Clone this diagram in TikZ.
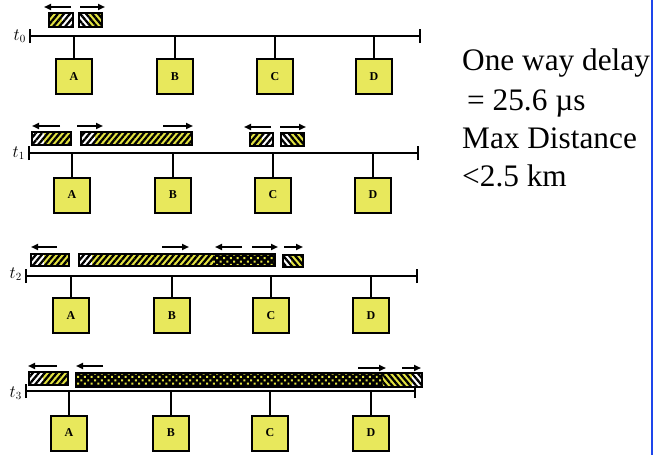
\documentclass[tikz,border=0pt]{standalone}
\usepackage{fontspec}
\setmainfont{Liberation Serif}
\usetikzlibrary{arrows.meta,patterns.meta}

\definecolor{stationfill}{RGB}{232,232,92}
\definecolor{stripe}{RGB}{226,226,64}
\definecolor{rulerblue}{RGB}{30,70,235}

\tikzset{
  wire/.style={line width=2pt, black},
  station/.style={draw, line width=2pt, fill=stationfill, minimum width=36pt,
    minimum height=35pt, inner sep=0pt, font=\bfseries\fontsize{12}{12}\selectfont},
  dir/.style={line width=1.7pt, -{Triangle[length=7pt,width=6pt]}},
  hatchfwd/.style={pattern={Lines[angle=50,distance=4.6pt,line width=2.3pt]}, pattern color=black},
  hatchback/.style={pattern={Lines[angle=-50,distance=4.6pt,line width=2.3pt]}, pattern color=black},
  dotfill/.style={pattern={Dots[radius=1.4pt,distance=4.8pt,angle=45]}, pattern color=stripe},
  frame/.style={draw, line width=1.4pt},
  tlabel/.style={font=\fontsize{16}{16}\selectfont, anchor=east, inner sep=1pt},
  note/.style={anchor=base west, inner sep=0pt, font=\fontsize{31.3}{38}\selectfont},
}

% striped frame: x1, x2, y1, y2, stripe style, white span start, white span end
\newcommand\hatchpkt[7]{%
  \fill[stripe] (#1,#3) rectangle (#2,#4);
  \fill[white] (#6,#3) rectangle (#7,#4);
  \fill[#5] (#1,#3) rectangle (#2,#4);
}
% collision (garbled) segment: x1, x2, y1, y2
\newcommand\dotpkt[4]{%
  \fill[black] (#1,#3) rectangle (#2,#4);
  \fill[dotfill] (#1,#3) rectangle (#2,#4);
}
% one bus: row index, bus y, left x, right x
\newcommand\busline[4]{%
  \coordinate (bus#1L) at (#3,#2);
  \coordinate (bus#1R) at (#4,#2);
  \draw[wire] (bus#1L) -- (bus#1R);
  \draw[wire] ([yshift=-7pt]bus#1L) -- ([yshift=7pt]bus#1L);
  \draw[wire] ([yshift=-7pt]bus#1R) -- ([yshift=7pt]bus#1R);
}

\begin{document}
\begin{tikzpicture}[x=1pt,y=-1pt]
\useasboundingbox (0,0) rectangle (657,455);

% ---------- t0 ----------
\busline{0}{36}{30}{420}
\node[tlabel] (t0) at (27,36) {$t_0$};
\foreach \n/\x in {A/74,B/175,C/275,D/374}{
  \coordinate (tap\n0) at (\x,36);
  \node[station] (\n0) at (\x,76.5) {\n};
  \draw[wire] (tap\n0) -- (\n0.north);
}
\hatchpkt{49}{73}{13}{27}{hatchfwd}{62}{73}
\draw[frame] (49,13) rectangle (73,27);
\hatchpkt{79}{102}{13}{27}{hatchback}{79}{89}
\draw[frame] (79,13) rectangle (102,27);
\draw[dir] (71,7) -- (44,7);
\draw[dir] (80,7) -- (105,7);

% ---------- t1 ----------
\busline{1}{153}{29}{418}
\node[tlabel] (t1) at (26,153) {$t_1$};
\foreach \n/\x in {A/72,B/173,C/273,D/373}{
  \coordinate (tap\n1) at (\x,153);
  \node[station] (\n1) at (\x,195) {\n};
  \draw[wire] (tap\n1) -- (\n1.north);
}
\hatchpkt{32}{71}{132}{145}{hatchfwd}{32}{44}
\draw[frame] (32,132) rectangle (71,145);
\hatchpkt{81}{192}{132}{145}{hatchfwd}{81}{95}
\draw[frame] (81,132) rectangle (192,145);
\hatchpkt{250}{273}{133}{146}{hatchfwd}{262}{273}
\draw[frame] (250,133) rectangle (273,146);
\hatchpkt{281}{304}{133}{146}{hatchback}{281}{290}
\draw[frame] (281,133) rectangle (304,146);
\draw[dir] (60,126) -- (32,126);
\draw[dir] (77,126) -- (103,126);
\draw[dir] (163,126) -- (193,126);
\draw[dir] (271,127) -- (244,127);
\draw[dir] (280,127) -- (306,127);

% ---------- t2 ----------
\busline{2}{276}{26}{417}
\node[tlabel] (t2) at (23,274) {$t_2$};
\foreach \n/\x in {A/71,B/172,C/271,D/371}{
  \coordinate (tap\n2) at (\x,276);
  \node[station] (\n2) at (\x,315.5) {\n};
  \draw[wire] (tap\n2) -- (\n2.north);
}
\hatchpkt{31}{69}{254}{266}{hatchfwd}{31}{44}
\draw[frame] (31,254) rectangle (69,266);
\hatchpkt{79}{213}{254}{266}{hatchfwd}{79}{92}
\dotpkt{213}{275}{254}{266}
\draw[frame] (79,254) rectangle (275,266);
\hatchpkt{283}{303}{255}{267}{hatchback}{283}{291}
\draw[frame] (283,255) rectangle (303,267);
\draw[dir] (57,247) -- (31,247);
\draw[dir] (162,247) -- (189,247);
\draw[dir] (242,247) -- (215,247);
\draw[dir] (252,247) -- (278,247);
\draw[dir] (284,247) -- (303,247);

% ---------- t3 ----------
\busline{3}{391}{26}{415}
\node[tlabel] (t3) at (23,393) {$t_3$};
\foreach \n/\x in {A/69,B/171,C/270,D/371}{
  \coordinate (tap\n3) at (\x,391);
  \node[station] (\n3) at (\x,433) {\n};
  \draw[wire] (tap\n3) -- (\n3.north);
}
\hatchpkt{29}{68}{372}{385}{hatchfwd}{29}{43}
\draw[frame] (29,372) rectangle (68,385);
\dotpkt{76}{383}{373}{387}
\hatchpkt{383}{422}{373}{387}{hatchback}{412}{422}
\draw[frame] (76,373) rectangle (422,387);
\draw[dir] (57,366) -- (28,366);
\draw[dir] (103,366) -- (76,366);
\draw[dir] (358,368) -- (386,368);
\draw[dir] (402,368) -- (421,368);

% ---------- notes ----------
\node[note] (delay) at (462,70) {One way delay};
\node[note] (delayval) at (462,110) {\hspace{5pt}= 25.6 µs};
\node[note] (maxd) at (462,148) {Max Distance};
\node[note] (maxval) at (462,186) {<2.5 km};

% right-hand rule
\coordinate (ruleTop) at (652,0);
\coordinate (ruleBot) at (652,455);
\draw[rulerblue, line width=2.5pt] (ruleTop) -- (ruleBot);
\end{tikzpicture}
\end{document}
